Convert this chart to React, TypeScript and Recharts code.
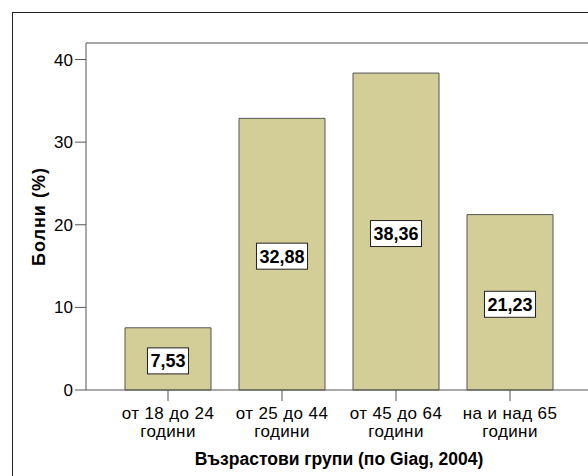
import { BarChart, Bar, XAxis, YAxis, LabelList, ReferenceLine } from 'recharts';

const ageGroups = ['от 18 до 24\nгодини', 'от 25 до 44\nгодини', 'от 45 до 64\nгодини', 'на и над 65\nгодини'];
const patientShare = [7.53, 32.88, 38.36, 21.23];
const yTicks = [0, 10, 20, 30, 40];

const data = ageGroups.map((group, i) => ({ group, value: patientShare[i] }));

const FONT = '"Liberation Sans", Arial, sans-serif';
const BAR_FILL = '#D3CE98';

const fmt = (v: number) => v.toFixed(2).replace('.', ',');

// rough Arial-bold advance widths, enough to size the label boxes
const textWidth = (s: string, size: number) =>
  s.split('').reduce((w, ch) => w + (ch === ',' ? 0.278 : 0.556) * size, 0);

function ValueBox(props: any) {
  const { x, y, width, height, value } = props;
  const text = fmt(Number(value));
  const size = 18;
  const w = textWidth(text, size) + 6;
  const h = 26;
  const cx = x + width / 2;
  const cy = y + height / 2 + 2;
  return (
    <g>
      <rect x={cx - w / 2} y={cy - h / 2} width={w} height={h} fill="#fff" stroke="#222" strokeWidth={1} />
      <text x={cx} y={cy + 6.5} textAnchor="middle" fontFamily={FONT} fontSize={size} fontWeight="bold" fill="#000">
        {text}
      </text>
    </g>
  );
}

function GroupTick(props: any) {
  const { x, y, payload } = props;
  const lines = String(payload.value).split('\n');
  return (
    <text x={x} y={y} textAnchor="middle" fontFamily={FONT} fontSize={17} letterSpacing={0.4} fill="#000">
      {lines.map((line, i) => (
        <tspan key={i} x={x} dy={i === 0 ? 16 : 18}>
          {line}
        </tspan>
      ))}
    </text>
  );
}

export default function App() {
  return (
    <div style={{ position: 'absolute', left: 0, top: 0, width: 588, height: 476, overflow: 'hidden', background: '#fff' }}>
      <div
        style={{ position: 'absolute', left: 12, top: 12, width: 700, height: 600, border: '1px solid #222', boxSizing: 'border-box' }}
      />
      <div style={{ position: 'absolute', left: 0, top: 0 }}>
        <BarChart
          width={620}
          height={476}
          data={data}
          margin={{ top: 43, right: 28, left: 12, bottom: 0 }}
          barCategoryGap={14}
        >
          <XAxis
            dataKey="group"
            interval={0}
            height={86}
            padding={{ left: 25, right: 25 }}
            tickSize={11}
            tickMargin={2}
            stroke="#555"
            tick={<GroupTick />}
            label={{
              value: 'Възрастови групи (по Giag, 2004)',
              position: 'insideBottom',
              offset: 11,
              fontFamily: FONT,
              fontSize: 17.5,
              fontWeight: 'bold',
              fill: '#000',
            }}
          />
          <YAxis
            width={74}
            domain={[0, 42]}
            ticks={yTicks}
            tickSize={11}
            tickMargin={2}
            stroke="#555"
            tick={{ fontFamily: FONT, fontSize: 17, fill: '#000' }}
            label={{
              value: 'Болни (%)',
              position: 'center',
              angle: -90,
              dx: -10.5,
              fontFamily: FONT,
              fontSize: 18,
              letterSpacing: 1,
              fontWeight: 'bold',
              fill: '#000',
            }}
          />
          <ReferenceLine y={42} stroke="#888" strokeWidth={1.5} />
          <Bar dataKey="value" fill={BAR_FILL} stroke="#555" strokeWidth={1} isAnimationActive={false}>
            <LabelList dataKey="value" content={<ValueBox />} />
          </Bar>
        </BarChart>
      </div>
    </div>
  );
}
